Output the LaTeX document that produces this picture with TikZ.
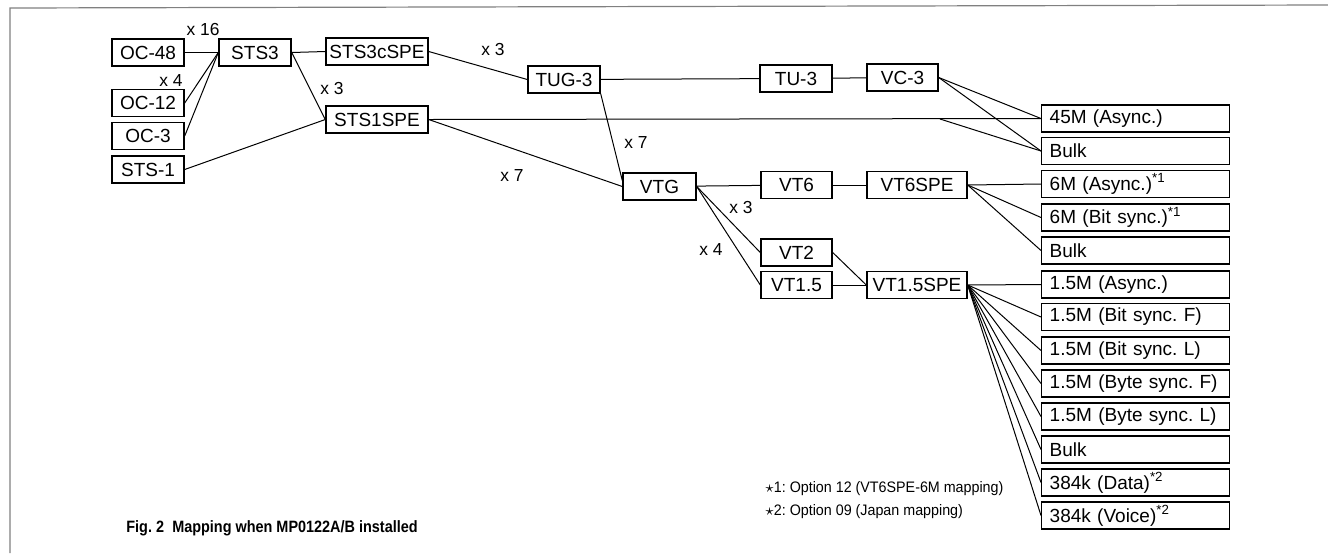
\documentclass[tikz,border=0pt]{standalone}
\usepackage{fontspec}
\setmainfont{Liberation Sans}
\newfontfamily\notefont[FakeStretch=0.94]{Liberation Sans}
\newfontfamily\capfont[FakeStretch=0.88]{Liberation Sans}
\frenchspacing

\begin{document}
\begin{tikzpicture}[x=0.5pt, y=-0.5pt,
        box/.style={draw, line width=0.7pt, minimum height=13.5pt, inner sep=1pt, font=\fontsize{9.5}{11}\selectfont},
        outbox/.style={box, anchor=west, text width=86pt, inner xsep=4pt, align=left},
        mult/.style={inner sep=0pt, font=\fontsize{8.7}{10}\selectfont},
        link/.style={line width=0.5pt}]
    \useasboundingbox (0,0) rectangle (1328,553);
    % frame
    \draw[gray, line width=0.6pt] (10,553) -- (10,8) -- (1328,5);

    % inputs
    \node[box, minimum width=36pt] (oc48) at (148, 52.5) {OC-48};
    \node[box, minimum width=36pt] (oc12) at (148, 103) {OC-12};
    \node[box, minimum width=36pt] (oc3) at (148, 136) {OC-3};
    \node[box, minimum width=36pt] (sts1) at (148, 169.5) {STS-1};
    \node[box, minimum width=36pt] (sts3) at (255, 52.5) {STS3};
    \node[box, minimum width=51pt] (sts3c) at (377, 51.5) {STS3cSPE};
    \node[box, minimum width=51pt] (sts1spe) at (377, 119.5) {STS1SPE};
    \node[box, minimum width=36pt] (tug3) at (564, 79.5) {TUG-3};
    \node[box, minimum width=36pt] (tu3) at (796, 78.5) {TU-3};
    \node[box, minimum width=35.5pt] (vc3) at (902.5, 77.5) {VC-3};
    \node[box, minimum width=36.5pt] (vtg) at (659.5, 186.5) {VTG};
    \node[box, minimum width=35.5pt] (vt6) at (796.5, 185) {VT6};
    \node[box, minimum width=50pt] (vt6spe) at (917, 185) {VT6SPE};
    \node[box, minimum width=35.5pt] (vt2) at (796.5, 252.5) {VT2};
    \node[box, minimum width=35.5pt] (vt15) at (796.5, 285) {VT1.5};
    \node[box, minimum width=50pt] (vt15spe) at (917, 285) {VT1.5SPE};

    % outputs
    \node[outbox] (o1) at (1041, 118.5) {45M (Async.)};
    \node[outbox] (o2) at (1041, 151) {Bulk};
    \node[outbox] (o3) at (1041, 184) {6M (Async.)\textsuperscript{*1}};
    \node[outbox] (o4) at (1041, 217.5) {6M (Bit sync.)\textsuperscript{*1}};
    \node[outbox] (o5) at (1041, 250.5) {Bulk};
    \node[outbox] (o6) at (1041, 284.5) {1.5M (Async.)};
    \node[outbox] (o7) at (1041, 317) {1.5M (Bit sync. F)};
    \node[outbox] (o8) at (1041, 350.5) {1.5M (Bit sync. L)};
    \node[outbox] (o9) at (1041, 383.5) {1.5M (Byte sync. F)};
    \node[outbox] (o10) at (1041, 416.5) {1.5M (Byte sync. L)};
    \node[outbox] (o11) at (1041, 449.5) {Bulk};
    \node[outbox] (o12) at (1041, 482.5) {384k (Data)\textsuperscript{*2}};
    \node[outbox] (o13) at (1041, 515.5) {384k (Voice)\textsuperscript{*2}};

    % multipliers
    \node[mult] (m16) at (203, 30) {x 16};
    \node[mult] (m4a) at (171, 81) {x 4};
    \node[mult] (m3a) at (332, 89) {x 3};
    \node[mult] (m3b) at (493, 50) {x 3};
    \node[mult] (m7a) at (636, 143) {x 7};
    \node[mult] (m7b) at (512, 176) {x 7};
    \node[mult] (m3c) at (741, 208) {x 3};
    \node[mult] (m4b) at (711, 250) {x 4};

    \coordinate (br) at (940, 119);

    \draw[link] (oc48) -- (sts3);
    \draw[link] (oc12.east) -- (sts3.west);
    \draw[link] (oc3.east) -- (sts3.west);
    \draw[link] (sts1.east) -- (sts1spe.west);
    \draw[link] (sts3.east) -- (sts3c.west);
    \draw[link] (sts3.east) -- (sts1spe.west);
    \draw[link] (sts3c.east) -- (tug3.west);
    \draw[link] (tug3) -- (tu3);
    \draw[link] (tu3) -- (vc3);
    \draw[link] (tug3.south east) -- ([yshift=3pt]vtg.west);
    \draw[link] (sts1spe.east) -- (vtg.west);
    \draw[link] (sts1spe.east) -- (o1.west);
    \draw[link] (br) -- (o2.west);
    \draw[link] (vc3.east) -- (o1.west);
    \draw[link] (vc3.east) -- (o2.west);
    \draw[link] (vtg) -- (vt6);
    \draw[link] (vtg.east) -- (vt2.west);
    \draw[link] (vtg.east) -- (vt15.west);
    \draw[link] (vt6) -- (vt6spe);
    \draw[link] (vt2.east) -- (vt15spe.west);
    \draw[link] (vt15) -- (vt15spe);
    \foreach \i in {3,4,5}
        \draw[link] (vt6spe.east) -- (o\i.west);
    \foreach \i in {6,...,13}
        \draw[link] (vt15spe.east) -- (o\i.west);

    % notes
    \node[anchor=west, inner sep=0pt, font=\notefont\fontsize{7.6}{9}\selectfont] (n1) at (765, 489) {$\star$1: Option 12 (VT6SPE-6M mapping)};
    \node[anchor=west, inner sep=0pt, font=\notefont\fontsize{7.6}{9}\selectfont] (n2) at (765, 512) {$\star$2: Option 09 (Japan mapping)};
    \node[inner sep=0pt, font=\capfont\bfseries\fontsize{8.2}{10}\selectfont] (cap) at (272, 528) {Fig.~2\enspace Mapping when MP0122A/B installed};
\end{tikzpicture}
\end{document}
